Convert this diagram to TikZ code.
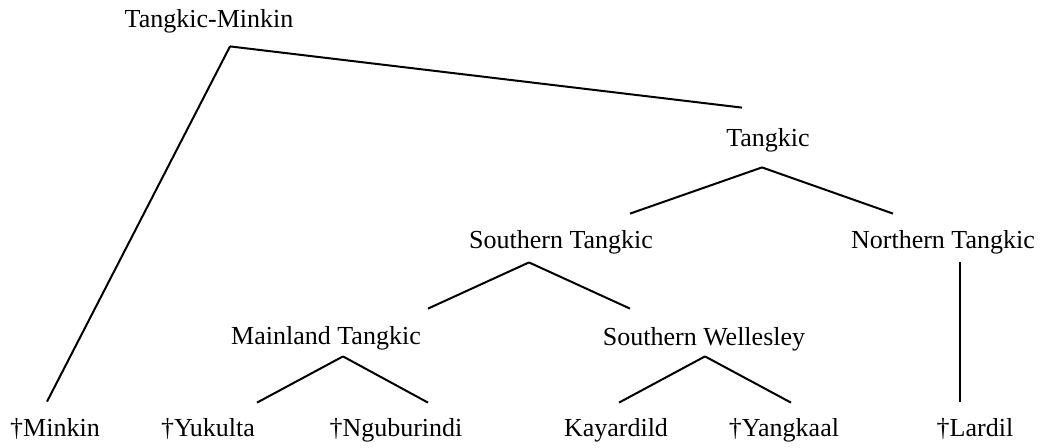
\documentclass[tikz,border=0pt]{standalone}
\usepackage{fontspec}
\setmainfont{Liberation Serif}

\begin{document}
\begin{tikzpicture}[x=0.5pt,y=-0.5pt,
    lang/.style={inner sep=0pt,anchor=base,text height=9pt,text depth=3pt,font=\fontsize{13}{15}\selectfont},
    branch/.style={black,line width=1pt}]
    \useasboundingbox (0,0) rectangle (1041,447);
    \node [lang] (tm) at (209,27) {Tangkic-Minkin};
    \node [lang] (tangkic) at (768,146) {Tangkic};
    \node [lang] (stk) at (561,248) {Southern Tangkic};
    \node [lang] (ntk) at (943,248) {Northern Tangkic};
    \node [lang] (mtk) at (326,344) {Mainland Tangkic};
    \node [lang] (swl) at (704,345) {Southern Wellesley};
    \node [lang] (minkin) at (55,436) {†Minkin};
    \node [lang] (yuk) at (208,436) {†Yukulta};
    \node [lang] (ngu) at (396,436) {†Nguburindi};
    \node [lang] (kay) at (616,436) {Kayardild};
    \node [lang] (yan) at (784,436) {†Yangkaal};
    \node [lang] (lar) at (975,436) {†Lardil};
    \draw [branch] ([shift={(21,13)}]tm.south) -- ([shift={(-8,-16)}]minkin.north);
    \draw [branch] ([shift={(21,13)}]tm.south) -- ([shift={(-26,-20)}]tangkic.north);
    \draw [branch] ([shift={(-6,15)}]tangkic.south) -- ([shift={(69,-16)}]stk.north);
    \draw [branch] ([shift={(-6,15)}]tangkic.south) -- ([shift={(-50,-16)}]ntk.north);
    \draw [branch] ([shift={(-32,8)}]stk.south) -- ([shift={(102,-17)}]mtk.north);
    \draw [branch] ([shift={(-32,8)}]stk.south) -- ([shift={(-74,-18)}]swl.north);
    \draw [branch] ([shift={(17,8)}]ntk.south) -- ([shift={(-15,-16)}]lar.north);
    \draw [branch] ([shift={(17,6)}]mtk.south) -- ([shift={(49,-15)}]yuk.north);
    \draw [branch] ([shift={(17,6)}]mtk.south) -- ([shift={(32,-15)}]ngu.north);
    \draw [branch] ([shift={(1,5)}]swl.south) -- ([shift={(3,-15)}]kay.north);
    \draw [branch] ([shift={(1,5)}]swl.south) -- ([shift={(7,-15)}]yan.north);
\end{tikzpicture}
\end{document}
